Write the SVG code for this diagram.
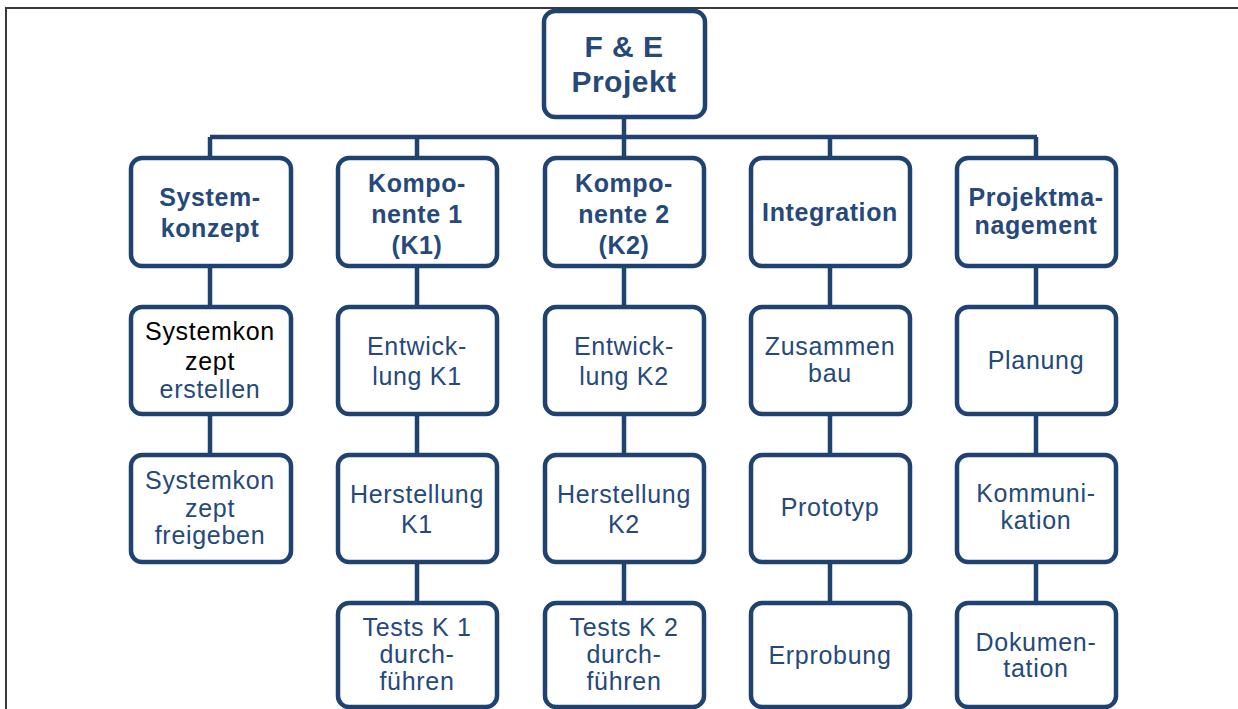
<svg xmlns="http://www.w3.org/2000/svg" width="1238" height="709" viewBox="0 0 1238 709">
<style>
.box{fill:#fff;stroke:#1f4270;stroke-width:4.5}
.ln{stroke:#1f4270;stroke-width:4.5;fill:none}
.frame{stroke:#3a3a3a;stroke-width:2;fill:none}
text{font-family:"Liberation Sans",Arial,sans-serif;text-anchor:middle;fill:#26497a}
.h{font-weight:bold;font-size:25px;letter-spacing:0.6px}
.t{font-size:25px;letter-spacing:0.7px}
.top{font-weight:bold;font-size:30px;letter-spacing:0.5px}
.blk{fill:#000}
</style>
<rect width="1238" height="709" fill="#fff"/>
<path class="frame" d="M6,709 V8 H1238"/>
<g id="connectors">
<path class="ln" d="M624,117 V137 M210,137 H1037 M210,137 V158 M417,137 V158 M624,137 V158 M830,137 V158 M1036,137 V158"/>
<path class="ln" d="M210,266 V307 M210,414 V455"/>
<path class="ln" d="M417,266 V307 M417,414 V455 M417,562 V603"/>
<path class="ln" d="M624,266 V307 M624,414 V455 M624,562 V603"/>
<path class="ln" d="M830,266 V307 M830,414 V455 M830,562 V603"/>
<path class="ln" d="M1036,266 V307 M1036,414 V455 M1036,562 V603"/>
</g>
<g id="root"><rect class="box" x="544" y="11" width="161" height="106" rx="11"/>
<text class="top" x="624" y="57">F &amp; E</text><text class="top" x="624" y="92">Projekt</text></g>

<g id="n_sys"><rect class="box" x="131" y="158" width="160" height="108" rx="11"/>
<text class="h" x="210" y="206">System-</text><text class="h" x="210" y="237">konzept</text></g>
<g id="n_k1"><rect class="box" x="338" y="158" width="159" height="108" rx="11"/>
<text class="h" x="417" y="192">Kompo-</text><text class="h" x="417" y="223">nente 1</text><text class="h" x="417" y="254">(K1)</text></g>
<g id="n_k2"><rect class="box" x="545" y="158" width="159" height="108" rx="11"/>
<text class="h" x="624" y="192">Kompo-</text><text class="h" x="624" y="223">nente 2</text><text class="h" x="624" y="254">(K2)</text></g>
<g id="n_int"><rect class="box" x="751" y="158" width="159" height="108" rx="11"/>
<text class="h" x="830" y="221">Integration</text></g>
<g id="n_pm"><rect class="box" x="957" y="158" width="159" height="108" rx="11"/>
<text class="h" x="1036" y="206">Projektma-</text><text class="h" x="1036" y="234">nagement</text></g>

<g id="n_sys1"><rect class="box" x="131" y="307" width="160" height="107" rx="11"/>
<text class="t blk" x="210" y="340">Systemkon</text><text class="t blk" x="210" y="370">zept</text><text class="t" x="210" y="398">erstellen</text></g>
<g id="n_sys2"><rect class="box" x="131" y="455" width="160" height="107" rx="11"/>
<text class="t" x="210" y="489">Systemkon</text><text class="t" x="210" y="517">zept</text><text class="t" x="210" y="544">freigeben</text></g>

<g id="n_k1a"><rect class="box" x="338" y="307" width="159" height="107" rx="11"/>
<text class="t" x="417" y="355">Entwick-</text><text class="t" x="417" y="385">lung K1</text></g>
<g id="n_k1b"><rect class="box" x="338" y="455" width="159" height="107" rx="11"/>
<text class="t" x="417" y="503">Herstellung</text><text class="t" x="417" y="533">K1</text></g>
<g id="n_k1c"><rect class="box" x="338" y="603" width="159" height="104" rx="11"/>
<text class="t" x="417" y="636">Tests K 1</text><text class="t" x="417" y="663">durch-</text><text class="t" x="417" y="690">führen</text></g>

<g id="n_k2a"><rect class="box" x="545" y="307" width="159" height="107" rx="11"/>
<text class="t" x="624" y="355">Entwick-</text><text class="t" x="624" y="385">lung K2</text></g>
<g id="n_k2b"><rect class="box" x="545" y="455" width="159" height="107" rx="11"/>
<text class="t" x="624" y="503">Herstellung</text><text class="t" x="624" y="533">K2</text></g>
<g id="n_k2c"><rect class="box" x="545" y="603" width="159" height="104" rx="11"/>
<text class="t" x="624" y="636">Tests K 2</text><text class="t" x="624" y="663">durch-</text><text class="t" x="624" y="690">führen</text></g>

<g id="n_int1"><rect class="box" x="751" y="307" width="159" height="107" rx="11"/>
<text class="t" x="830" y="355">Zusammen</text><text class="t" x="830" y="382">bau</text></g>
<g id="n_int2"><rect class="box" x="751" y="455" width="159" height="107" rx="11"/>
<text class="t" x="830" y="516">Prototyp</text></g>
<g id="n_int3"><rect class="box" x="751" y="603" width="159" height="104" rx="11"/>
<text class="t" x="830" y="664">Erprobung</text></g>

<g id="n_pm1"><rect class="box" x="957" y="307" width="159" height="107" rx="11"/>
<text class="t" x="1036" y="369">Planung</text></g>
<g id="n_pm2"><rect class="box" x="957" y="455" width="159" height="107" rx="11"/>
<text class="t" x="1036" y="502">Kommuni-</text><text class="t" x="1036" y="529">kation</text></g>
<g id="n_pm3"><rect class="box" x="957" y="603" width="159" height="104" rx="11"/>
<text class="t" x="1036" y="651">Dokumen-</text><text class="t" x="1036" y="677">tation</text></g>
</svg>
